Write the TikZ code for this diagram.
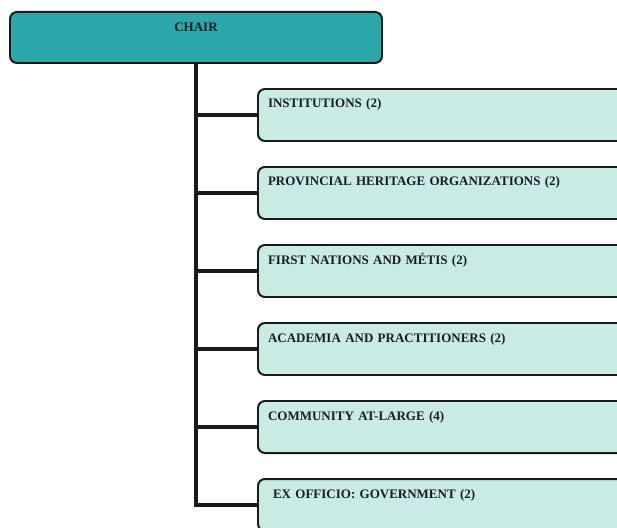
\documentclass[tikz,border=0pt]{standalone}
\usepackage{fontspec}
\setmainfont{Liberation Serif}
\definecolor{chairteal}{HTML}{2AA8AA}
\definecolor{seatteal}{HTML}{C8ECE4}
\definecolor{inkline}{HTML}{1A1A1A}
\definecolor{inktext}{HTML}{1A1A28}
\tikzset{
	chairbox/.style={draw=inkline, line width=0.7mm, fill=chairteal, rounded corners=7pt,
		anchor=north west, minimum width=372pt, inner sep=0pt, text height=19.5pt, text depth=31.5pt,
		text=inktext, font=\fontsize{13}{15}\selectfont\bfseries},
	seatbox/.style={draw=inkline, line width=0.7mm, fill=seatteal, rounded corners=7pt,
		anchor=north west, text width=380pt, align=left, inner xsep=10pt, inner ysep=0pt,
		text height=19pt, text depth=33pt, text=inktext, font=\fontsize{13}{15}\selectfont\bfseries},
	trunk/.style={draw=inkline, line width=1.4mm}
}
\begin{document}
\begin{tikzpicture}[x=1pt, y=-1pt]
			%%%%% START %%%%%
			\useasboundingbox (0, 0) rectangle (617, 527);
			
			\node[chairbox] (chair) at (9, 11) {CHAIR};
			
			\node[seatbox] (inst) at (257, 88) {INSTITUTIONS (2)};
			\node[seatbox] (prov) at (257, 166) {PROVINCIAL HERITAGE ORGANIZATIONS (2)};
			\node[seatbox] (first) at (257, 244) {FIRST NATIONS AND MÉTIS (2)};
			\node[seatbox] (acad) at (257, 322) {ACADEMIA AND PRACTITIONERS (2)};
			\node[seatbox] (comm) at (257, 400) {COMMUNITY AT-LARGE (4)};
			\node[seatbox] (gov) at (257, 478) {\hspace*{5pt}EX OFFICIO: GOVERNMENT (2)};
			
			% trunk and branches
			\draw[trunk] (chair.south) |- (gov.west);
			\draw[trunk] (chair.south |- inst.west) -- (inst.west);
			\draw[trunk] (chair.south |- prov.west) -- (prov.west);
			\draw[trunk] (chair.south |- first.west) -- (first.west);
			\draw[trunk] (chair.south |- acad.west) -- (acad.west);
			\draw[trunk] (chair.south |- comm.west) -- (comm.west);
			
			%%%%% END %%%%%
\end{tikzpicture}
\end{document}
